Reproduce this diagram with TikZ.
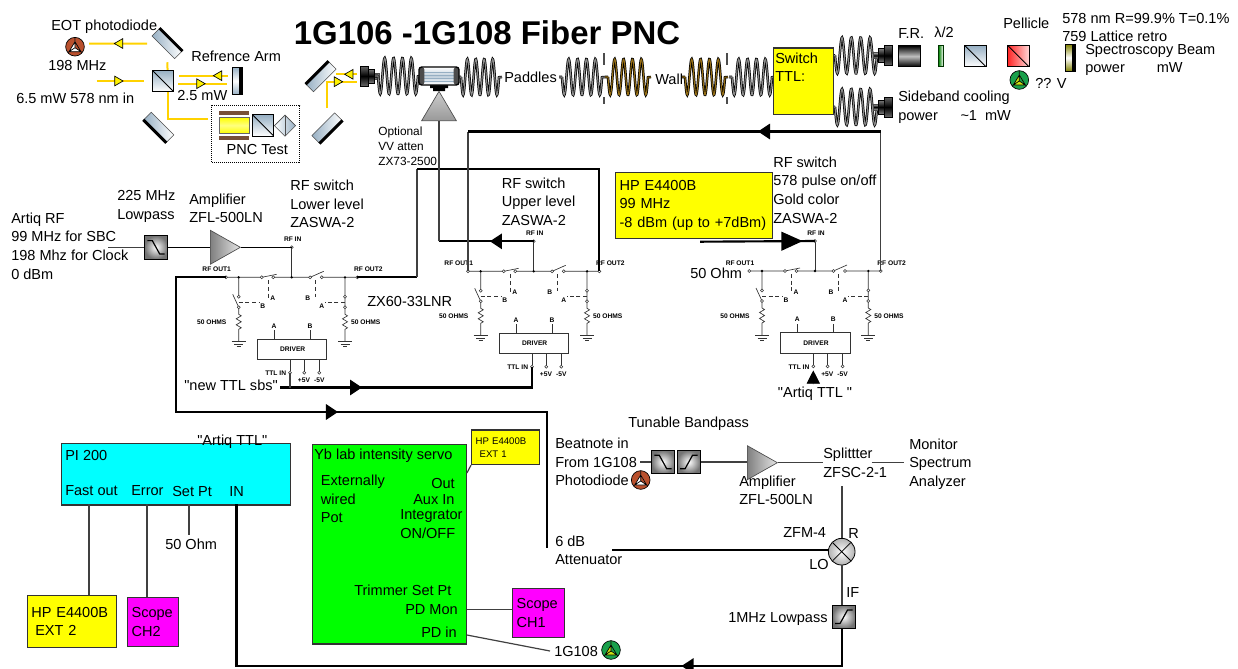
\documentclass[tikz,border=0pt]{standalone}
\usepackage{fontspec}
\setmainfont{Liberation Sans}[Ligatures=TeXOff]
\usepackage{xcolor}
\usetikzlibrary{arrows.meta,positioning,calc,shapes.geometric,decorations.markings}
\definecolor{beamgold}{RGB}{255,210,0}
\definecolor{steelblue}{RGB}{150,175,195}
\definecolor{fibergold}{RGB}{150,110,20}
\definecolor{cellbrown}{RGB}{120,80,55}
\definecolor{pdbrown}{RGB}{185,80,45}
\definecolor{pdgreen}{RGB}{25,160,75}
\definecolor{hpyellow}{RGB}{255,255,0}
\definecolor{scopepink}{RGB}{255,0,255}
\definecolor{picyan}{RGB}{0,255,255}
\definecolor{servogreen}{RGB}{0,255,0}
\newcommand{\fibercoil}[4]{%
  \draw[line width=1.9pt, black] (#1-3,#3) -- (#1,#3) plot[domain=0:1, samples=90, variable=\t] ({#1+(#2-#1)*\t},{#3+18*sin(\t*4.5*360)}) -- (#2+3,#3);
  \draw[line width=0.8pt, #4] (#1-3,#3) -- (#1,#3) plot[domain=0:1, samples=90, variable=\t] ({#1+(#2-#1)*\t},{#3+18*sin(\t*4.5*360)}) -- (#2+3,#3);
}
\begin{document}
\begin{tikzpicture}[
  x=0.75pt, y=-0.75pt,
  font=\fontsize{10.9}{13.9}\selectfont,
  lbl/.style={anchor=west, inner sep=0pt, align=left},
  smalllbl/.style={lbl, font=\fontsize{8.9}{11.2}\selectfont},
  tag/.style={inner sep=0pt, font=\fontsize{5}{6}\selectfont\bfseries},
  box/.style={draw=black!80, line width=0.9pt, anchor=north west, inner sep=3pt, align=left},
  yellowbox/.style={box, fill=hpyellow},
  scopebox/.style={box, fill=scopepink},
  rf/.style={draw=black, line width=1.6pt},
  thin rf/.style={draw=black!75, line width=0.9pt},
  sw/.style={draw=black!80, line width=0.5pt},
  opendot/.style={draw=black!80, fill=white, line width=0.4pt},
  beam/.style={draw=beamgold, line width=1.5pt},
  bigarr/.style={postaction={decorate, decoration={markings, mark=at position #1 with {\arrow{Triangle[length=9pt,width=11.5pt]}}}}},
  hugearr/.style={postaction={decorate, decoration={markings, mark=at position #1 with {\arrow{Triangle[length=16pt,width=14pt]}}}}},
  beamarr/.style={postaction={decorate, decoration={markings, mark=at position #1 with {\arrow{Triangle[color=black,fill=yellow,line width=0.5pt,length=7pt,width=8pt]}}}}},
  mirror/.style={draw=black!70, line width=0.4pt, inner sep=0pt, minimum width=24pt, minimum height=8pt,
    left color=steelblue, right color=white},
  retro/.style={draw=black, line width=0.5pt, inner sep=0pt, minimum width=7.5pt, minimum height=20.5pt,
    top color=#1, bottom color=#1, middle color=white,
    path picture={\fill[black] ([xshift=1.2pt]path picture bounding box.north) rectangle (path picture bounding box.south east);}},
  cube/.style={draw=black, line width=0.7pt, inner sep=0pt, minimum size=16pt,
    path picture={\draw[black, line width=0.6pt] (path picture bounding box.north west) -- (path picture bounding box.south east);}},
  filterbox/.style={draw=black, line width=0.7pt, inner sep=0pt, minimum size=17.5pt, inner color=white, outer color=black!55},
  fdown/.style={filterbox, path picture={\draw[black, line width=0.9pt, shift={(path picture bounding box.center)}]
    (-8.7,-6.7) -- (-3.7,-6.7) -- (3.7,6.7) -- (8.7,6.7);}},
  fup/.style={filterbox, path picture={\draw[black, line width=0.9pt, shift={(path picture bounding box.center)}]
    (-8.7,6.7) -- (-3.7,6.7) -- (3.7,-6.7) -- (8.7,-6.7);}},
  amp/.style={isosceles triangle, isosceles triangle stretches, draw=black!70, line width=0.5pt, inner sep=0pt, anchor=west,
    minimum width=25.5pt, minimum height=22.5pt, left color=black!50, right color=black!10},
  pd/.style 2 args={circle, draw=black, line width=0.5pt, inner sep=0pt, minimum size=14pt, fill=#1,
    path picture={\draw[black, line width=0.5pt, fill=#2, shift={(path picture bounding box.center)}]
      (0,-5) -- (6,5) -- (-6,5) -- cycle (0,-10) -- (0,-5) (6,5) -- (10,9) (-6,5) -- (-10,9) (0,-5) -- (0,1) -- (6,5) (0,1) -- (-6,5);}},
  coupler/.pic={
    \shade[draw=black!70, line width=0.3pt, top color=black!30, bottom color=black!30, middle color=black] (14,-3) rectangle (19,3);
    \shade[draw=black, line width=0.3pt, top color=black!50, bottom color=black!50, middle color=black] (8,-7) rectangle (14,7);
    \shade[draw=black, line width=0.3pt, top color=black!60, bottom color=black!60, middle color=black] (0,-10) rectangle (8,10);
  },
  rfswitch/.pic={
    \coordinate (-in) at (0,-30);
    \coordinate (-outa) at (-65.7,0);
    \coordinate (-outb) at (65.7,0);
    \coordinate (-ttl) at (-1.7,95.4);
    \draw[sw] (0,-30) -- (0,0);
    \draw[sw] (-65.7,0) -- (-30,0) (-30,0) -- (-15,-3) (-18.4,0) -- (18.4,0) (18.4,0) -- (32,-6) (30,0) -- (65.7,0);
    % shunt legs
    \draw[sw] (-53,0) -- (-53,19.4) (-53,30) -- (-59,17) (-53,30) -- (-53,37)
      -- (-50.5,38.5) -- (-55.5,41.5) -- (-50.5,44.5) -- (-55.5,47.5) -- (-50.5,50.5) -- (-53,52) -- (-53,64);
    \draw[sw] (53.3,0) -- (53.3,30) -- (53.3,37)
      -- (55.8,38.5) -- (50.8,41.5) -- (55.8,44.5) -- (50.8,47.5) -- (55.8,50.5) -- (53.3,52) -- (53.3,64);
    \foreach \gx in {-53,53.3} {
      \draw[sw, line width=0.7pt] (\gx-7,64.4) -- (\gx+7,64.4) (\gx-4.5,67) -- (\gx+4.5,67) (\gx-2,69.6) -- (\gx+2,69.6);
      \fill[black] (\gx,0) circle[radius=1.3];
    }
    \fill[black] (0,0) circle[radius=1.3];
    % control dashes
    \draw[sw, densely dashed] (-23.3,3) -- (-23.3,21) (23.3,3) -- (23.3,20) (-53,25) -- (-32.5,25) (53.3,25) -- (33,25);
    % driver
    \draw[sw, line width=0.6pt] (-34.4,61.7) rectangle (35,82);
    \draw[sw] (-17.7,53) -- (-17.7,61.7) (18.3,53) -- (18.3,61.7) (-1.7,82) -- (-1.7,94) (12.6,82) -- (12.6,94) (27.6,82) -- (27.6,94);
    \foreach \dx/\dy in {0/-30,-65.7/0,65.7/0,-30/0,-18.4/0,18.4/0,30/0,-53/19.4,-53/30,53.3/19.4,53.3/30,-1.7/95.4,12.6/95.4,27.6/95.4}
      \filldraw[opendot] (\dx,\dy) circle[radius=1.5];
    \node[tag] at (1,-38) {RF IN};
    \node[tag] at (-75,-8) {RF OUT1};
    \node[tag] at (76.6,-8) {RF OUT2};
    \node[tag] at (-80,45) {50 OHMS};
    \node[tag] at (74,45) {50 OHMS};
    \node[tag] at (1,71.7) {DRIVER};
    \node[tag] at (-16,96) {TTL IN};
    \node[tag] at (12.3,103.4) {+5V};
    \node[tag] at (27.6,103) {-5V};
    \node[tag] at (-17.7,48.4) {A};
    \node[tag] at (18.3,48.4) {B};
    \node[tag] at (-19,21) {A};
    \node[tag] at (16,21) {B};
    \node[tag] at (-29,29) {B};
    \node[tag] at (30,29) {A};
  }
]
\useasboundingbox (0,0) rectangle (1238,668);
% ---- optics, left -------------------------------------------------------------
\node[font=\fontsize{24.7}{28}\selectfont\bfseries, inner sep=0pt] (title) at (487,33) {1G106 -1G108 Fiber PNC};
\node[mirror, rotate=-45] (mira) at (167,43.5) {};
\node[mirror, rotate=135] (mirb) at (158.7,127.3) {};
\node[mirror, rotate=45] (mirc) at (321,76.7) {};
\node[mirror, rotate=225] (mird) at (327,128) {};
\foreach \mm in {mira,mirb,mirc,mird}
  \draw[black, line width=2.2pt] (\mm.north west) -- (\mm.north east);
\node[cube, top color=steelblue, bottom color=white] (bsa) at (163,81) {};
\node[retro=steelblue] (reta) at (237,81) {};
\node[pd={pdbrown}{white}] (pdeot) at (75,46.7) {};
\node[draw=black, densely dotted, line width=0.5pt, inner sep=0pt, minimum width=66pt, minimum height=42.5pt] (pnc) at (255.8,134) {};
\node[draw=black!60, line width=0.3pt, inner sep=0pt, minimum width=22.5pt, minimum height=12pt, top color=yellow, bottom color=yellow, middle color=white!50!yellow] (cell) at (234,125.3) {};
\node[fill=cellbrown, inner sep=0pt, minimum width=22.5pt, minimum height=3.2pt] (cellt) at (234,112.8) {};
\node[fill=cellbrown, inner sep=0pt, minimum width=22.5pt, minimum height=3.2pt] (cellb) at (234,137.8) {};
\node[cube, top color=steelblue, bottom color=white] (bsb) at (263.2,125.5) {};
\node[diamond, draw=black!70, line width=0.5pt, inner sep=0pt, minimum size=16pt, left color=white, right color=steelblue,
  path picture={\draw[black!70, line width=0.5pt] (path picture bounding box.north) -- (path picture bounding box.south);}] (prism) at (285,125.7) {};
\coordinate (inb) at (96.7,81);
\coordinate (fiba) at (357,81.7);
\coordinate (fibb) at (357,74.3);
\coordinate (bmb) at (336,74.3);
\draw[beam, shorten <=9pt, shorten >=10.5pt, beamarr=0.54] (mira) -- (pdeot |- mira);
\draw[beam, shorten >=6pt, beamarr=0.49] (inb) -- (bsa.west);
\draw[beam, shorten >=8pt] ([xshift=3.4pt]bsa.north) -- (mira);
\draw[beam, shorten <=3pt, shorten >=3.5pt, beamarr=0.33] ([yshift=4pt]reta.west) -- ([yshift=4pt]bsa.east);
\draw[beam, shorten <=3pt, shorten >=3.5pt, beamarr=0.55] ([yshift=-2pt]bsa.east) -- ([yshift=-2pt]reta.west);
\draw[beam, shorten >=2.5pt] ([xshift=3.4pt]bsa.south) |- ([yshift=11pt]pnc.west);
\draw[beam, shorten <=9pt, beamarr=0.80] (mird) |- (fiba);
\draw[beam, beamarr=0.62] (fibb) -- (bmb);
\node[lbl] (eotlbl) at (51,27) {EOT photodiode};
\node[lbl] (pdfreq) at (48,65) {198 MHz};
\node[lbl] (inlbl) at (16,98) {6.5 mW 578 nm in};
\node[lbl] (reflbl) at (191,56) {Refrence Arm};
\node[lbl] (refpow) at (177,95) {2.5 mW};
\node[inner sep=0pt] (pnclbl) at (257.3,149) {PNC Test};
% ---- fiber path ----------------------------------------------------------------
\pic at (360,76) {coupler};
\foreach \xa/\xb/\yc/\cc in {378/418/76/black!45, 461/499/77/black!45, 562/602/77/black!45, 608/648/77/fibergold,
    685/725/77/fibergold, 732/772/77/black!45, 835/877/55.5/black!45, 835/877/107/black!45} {
  \fibercoil{\xa}{\xb}{\yc}{\cc}
}
\draw[black!70, line width=1pt, dash pattern=on 9pt off 24pt] (604,53) -- (604,104);
\draw[black!70, line width=1pt, dash pattern=on 9pt off 24pt] (727,53) -- (727,104);
\fill[black] (430,84) rectangle (448,88) (433,88) rectangle (445,91);
\node[draw=black, line width=1pt, rounded corners=2pt, inner sep=0pt, minimum width=30pt, minimum height=13.5pt, top color=white, bottom color=white, middle color=steelblue!60,
  path picture={\foreach \ys in {-4,-1,2,5} \draw[steelblue, line width=0.5pt, shift={(path picture bounding box.center)}] (-16,\ys) -- (16,\ys);
    \fill[black!70] (path picture bounding box.north west) rectangle ([xshift=4pt]path picture bounding box.south west);
    \fill[black!70] (path picture bounding box.north east) rectangle ([xshift=-4pt]path picture bounding box.south east);}] (aom) at (439,76) {};
\node[isosceles triangle, isosceles triangle stretches, shape border rotate=90, draw=black!70, line width=0.5pt, inner sep=0pt, anchor=south,
  minimum width=26pt, minimum height=22pt, top color=black!20, bottom color=black!40] (vv) at (439,121) {};
\node[smalllbl] (vvlbl) at (378,146) {Optional\\VV atten\\ZX73-2500};
\node[lbl] (padlbl) at (504,77) {Paddles};
\node[lbl] (walllbl) at (655,79) {Wall};
\node[yellowbox, minimum width=45.2pt, minimum height=50pt, text width=39pt] (ttlsw) at (772.7,47.3) {};
\node[lbl] (ttllbl) at (775,67) {Switch\\TTL:};
% ---- optics, right -------------------------------------------------------------
\pic[xscale=-1] at (892,55.5) {coupler};
\pic[xscale=-1] at (892,107) {coupler};
\node[draw=black, line width=0.5pt, inner sep=0pt, minimum width=16.5pt, minimum height=15.8pt, top color=black, bottom color=black, middle color=black!25] (frot) at (909.6,56.2) {};
\node[draw=black!80!green, line width=0.5pt, inner sep=0pt, minimum width=3.5pt, minimum height=16pt, left color=green!50!black, right color=white] (wave) at (940.8,55.8) {};
\node[cube, bottom color=white, top color=steelblue] (bsc) at (975.5,56.2) {};
\node[cube, left color=red!85, right color=red!15] (pell) at (1018.5,56.2) {};
\node[pd={pdgreen}{yellow!80!green}] (pdspec) at (1019.3,80) {};
\node[retro=olive] (retb) at (1070.7,57.8) {};
\node[lbl] (frlbl) at (898,33) {F.R.};
\node[lbl] (walbl) at (934,32) {λ/2};
\node[lbl] (pelllbl) at (1003,23) {Pellicle};
\node[lbl] (retlbl) at (1062,27.5) {578 nm R=99.9\% T=0.1\%\\759 Lattice retro};
\node[lbl] (speclbl) at (1085,60) {Spectroscopy Beam\\power\hspace*{24pt}mW};
\node[lbl] (voltlbl) at (1035,83) {?? V};
\node[lbl] (sblbl) at (898,107) {Sideband cooling\\power\hspace*{17pt}\textasciitilde1\hspace*{6pt}mW};
% ---- rf switches ---------------------------------------------------------------
\pic (swl) at (291.7,277.3) {rfswitch};
\pic (swu) at (533.7,271.3) {rfswitch};
\pic (swg) at (815,271) {rfswitch};
\node[fdown] (lpin) at (156,247.3) {};
\node[amp] (ampa) at (210,247.3) {};
\node[yellowbox, minimum width=117.5pt, minimum height=49.5pt, text width=111.5pt] (hpa) at (615,171.7) {HP E4400B\\99 MHz\\-8 dBm (up to +7dBm)};
\coordinate (artin) at (108,247.3);
\coordinate (upt) at (417,169);
\coordinate (topc) at (468,131.5);
\coordinate (topr) at (880.7,131.5);
\coordinate (lowc) at (176,412);
\coordinate (attn) at (547.3,548);
\coordinate (hpout) at (700,241.7);
\coordinate (sbsin) at (280,387.5);
\coordinate (ttlup) at (813.3,384);
\draw[thin rf] (artin) -- (lpin);
\draw[rf, line width=1.2pt] (lpin) -- (ampa.west);
\draw[rf, line width=1.2pt] (ampa.apex) -| (swl-in);
\draw[rf] (swl-outb) -- (swl-outb -| upt);
\draw[thin rf] (swl-outb -| upt) -- (upt);
\draw[rf] (upt) -| (swu-outb);
\draw[rf, bigarr=260pt] (swl-outa) -| (lowc) -| (attn);
\draw[rf, bigarr=32.8pt] (swu-in) -- (swu-in -| vv.south);
\draw[thin rf] (swu-in -| vv.south) -- (vv.south);
\draw[thin rf] (swu-outa) -- (topc);
\draw[thin rf] (swg-outb) -- (topr);
\draw[rf, bigarr=92pt] (topr) -- (topc);
\draw[rf, hugearr=77pt] (hpout) -- (swg-in);
\draw[rf, bigarr=61.5pt] (sbsin) -| (swu-ttl);
\draw[thin rf] (swl-ttl) -- (swl-ttl |- sbsin);
\draw[-{Triangle[length=10pt,width=10pt]}, shorten >=3pt, draw=black, line width=0.5pt] (ttlup) -- (swg-ttl);
\node[lbl] (artlbl) at (11,246) {Artiq RF\\99 MHz for SBC\\198 Mhz for Clock\\0 dBm};
\node[lbl] (lplbl) at (117,206.5) {225 MHz\\Lowpass};
\node[lbl] (amplbl) at (189,208.5) {Amplifier\\ZFL-500LN};
\node[lbl] (swllbl) at (290,204) {RF switch\\Lower level\\ZASWA-2};
\node[lbl] (swulbl) at (501.5,201.5) {RF switch\\Upper level\\ZASWA-2};
\node[lbl] (swglbl) at (773,190) {RF switch\\578 pulse on/off\\Gold color\\ZASWA-2};
\node[lbl] (lnalbl) at (367,301) {ZX60-33LNR};
\node[lbl] (ohmlbl) at (690,273) {50 Ohm};
\node[lbl] (sbslbl) at (184,385.5) {"new TTL sbs"};
\node[inner sep=0pt] (ttlq) at (815,394) {"Artiq TTL "};
% ---- servo boxes ---------------------------------------------------------------
\node[box, fill=picyan, minimum width=171.7pt, minimum height=46.2pt] (pi) at (61,442.7) {};
\node[yellowbox, minimum width=66.8pt, minimum height=39pt, text width=60.8pt] (hpb) at (26.7,595) {HP E4400B\\\hspace*{3pt}EXT 2};
\node[scopebox, minimum width=38.2pt, minimum height=36.4pt, text width=32.2pt] (scb) at (127,597) {Scope\\CH2};
\node[box, fill=servogreen, minimum width=115.5pt, minimum height=149.5pt] (servo) at (311.7,444) {};
\node[yellowbox, minimum width=50.8pt, minimum height=26pt, text width=44.8pt, font=\fontsize{7.2}{9.8}\selectfont] (hpc) at (471,429.3) {HP E4400B\\\hspace*{3pt}EXT 1};
\node[scopebox, minimum width=39pt, minimum height=36.5pt, text width=33pt] (sca) at (512,588) {Scope\\CH1};
\node[lbl] (pilbl) at (65,455) {PI 200};
\node[lbl] (fastlbl) at (65,491) {Fast out};
\node[lbl] (errlbl) at (131,491) {Error};
\node[lbl] (setlbl) at (172,491) {Set Pt};
\node[lbl] (inlbl2) at (229,491) {IN};
\node[lbl] (artq) at (197,442) {"Artiq TTL"};
\node[lbl] (ohmb) at (165,544) {50 Ohm};
\node[lbl] (ybl) at (314,456) {Yb lab intensity servo};
\node[lbl] (extl) at (320.7,499) {Externally\\wired\\Pot};
\node[lbl] (outl) at (431,483) {Out};
\node[lbl] (auxl) at (413,500) {Aux In};
\node[lbl] (intl) at (400,524) {Integrator\\ON/OFF};
\node[lbl] (triml) at (354,590) {Trimmer Set Pt};
\node[lbl] (monl) at (405,610) {PD Mon};
\node[lbl] (pdinl) at (421,632) {PD in};
\node[lbl] (ybpd) at (554,651) {1G108};
\node[pd={pdgreen}{yellow!80!green}] (pdyb) at (611,650) {};
\coordinate (piouta) at (88.7,504.3);
\coordinate (piera) at (147,504.3);
\coordinate (piseta) at (189,504.3);
\coordinate (piseta2) at (189,535);
\coordinate (piina) at (236.5,504.3);
\draw[thin rf, line width=1.2pt] (piouta) -- (piouta |- hpb.north);
\draw[thin rf, line width=1.2pt] (piera) -- (piera |- scb.north);
\draw[thin rf] (piseta) -- (piseta2);
\draw[thin rf] (servo.east |- 0,473) -- (hpc.south west);
\draw[thin rf] (servo.east |- 0,609.3) -- (sca.west |- 0,609.3);
\draw[thin rf] (servo.east |- 0,635) -- ([xshift=-3pt]ybpd.west);
% ---- beatnote ------------------------------------------------------------------
\node[lbl] (beatlbl) at (555,462) {Beatnote in\\From 1G108\\Photodiode};
\node[pd={pdbrown}{white}] (pdbeat) at (640.7,480) {};
\node[lbl] (tunelbl) at (628,424) {Tunable Bandpass};
\node[fdown] (bpa) at (663,462) {};
\node[fup] (bpb) at (688.8,462) {};
\node[amp] (ampb) at (747,462.7) {};
\node[lbl] (ampbl) at (739,490.5) {Amplifier\\ZFL-500LN};
\node[lbl] (spltl) at (823,463) {Splittter\\ZFSC-2-1};
\node[lbl] (monil) at (909,464) {Monitor\\Spectrum\\Analyzer};
\node[circle, draw=black, line width=0.6pt, inner sep=0pt, minimum size=20pt, inner color=white, outer color=black!30,
  path picture={\draw[black, line width=0.6pt, shift={(path picture bounding box.center)}] (-9,-9) -- (9,9) (-9,9) -- (9,-9);}] (mix) at (841.7,551.7) {};
\node[fup] (lpif) at (843.8,616.7) {};
\node[lbl] (zfml) at (783,532) {ZFM-4};
\node[lbl] (rlbl) at (848,533) {R};
\node[lbl] (lolbl) at (809,564) {LO};
\node[lbl] (iflbl) at (846,592) {IF};
\node[lbl] (lplbl2) at (728,619) {1MHz Lowpass};
\node[lbl] (attl) at (555,550.5) {6 dB\\Attenuator};
\coordinate (beatin) at (640,462);
\coordinate (splt) at (822.7,462.7);
\coordinate (splb) at (871.7,462.7);
\coordinate (moni) at (904,462.7);
\coordinate (spld) at (841.7,486);
\coordinate (attr) at (612,550);
\coordinate (botr) at (841.7,666);
\draw[thin rf] (beatin) -- (bpa);
\draw[thin rf] (bpb) -- (bpb -| ampb.west);
\draw[thin rf] (ampb.apex) -- (splt);
\draw[thin rf] (splb) -- (moni);
\draw[thin rf, line width=1.2pt] (spld) -- (mix);
\draw[rf] (attr) -- (attr -| mix.west);
\draw[thin rf, line width=1.2pt] (mix) -- (mix |- lpif.north);
\draw[rf, bigarr=148pt] (botr |- lpif.south) -- (botr) -| (piina);
\end{tikzpicture}
\end{document}
